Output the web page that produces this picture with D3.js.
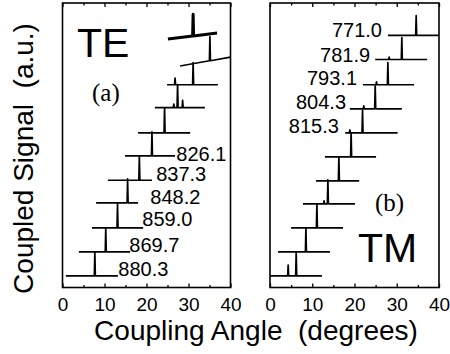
<!DOCTYPE html>
<html>
<head>
<meta charset="utf-8">
<script src="https://cdn.jsdelivr.net/npm/d3@7"></script>
<style>
  body { margin: 0; background: #fff; }
  svg { display: block; font-family: "Liberation Sans", Arial, Helvetica, sans-serif; }
  .serif { font-family: "Liberation Serif", "Times New Roman", serif; }
</style>
</head>
<body>
<svg id="chart" width="450" height="354"></svg>
<script>
// TE モード (下から上へ) : 基線レベル, 走査範囲, ピーク角度, ピーク高さ
const teLevel  = [0, 1.0, 2.0, 3.04, 3.98, 4.99, 5.95, 7.0, 7.95, 8.73, 9.85];
const teStart  = [0.8, 3.9, 7.0, 8.0, 10.8, 14.9, 18.0, 22.0, 24.9, 28.0, 25.1];
const tePeak   = [7.7, 10.3, 13.1, 15.5, 18.3, 21.3, 24.3, 27.4, 31.1, 35.1, 31.1];
const teEnd    = [13.2, 16.1, 19.2, 18.0, 21.3, 26.8, 30.4, 33.9, 37.0, 40, 36.8];
const teHeight = [1.0, 1.0, 1.0, 1.0, 1.0, 1.0, 1.04, 0.96, 0.92, 1.0, 0.9];
const teTilt   = [0, 0, 0, 0, 0, 0, 0, 0, 0, 0.37, 0.25];
// 小さな副ピーク [トレース番号, 角度, 高さ]
const teSide   = [[7, 26.5, 0.15], [7, 28.6, 0.3], [8, 26.8, 0.28]];
// 波長ラベル (トレース 0..5)
const teLabels     = ["880.3", "869.7", "859.0", "848.2", "837.3", "826.1"];
const teLabelAngle = [13.3, 15.9, 19.0, 20.9, 22.3, 27.1];
const teLabelLevel = [0, 1.01, 2.08, 2.99, 3.95, 4.8];

// TM モード
const tmLevel  = [0, 1.0, 2.0, 3.0, 3.95, 4.95, 5.95, 6.95, 7.95, 9.0, 10.0];
const tmStart  = [0, 1.9, 5.0, 7.8, 10.9, 13.0, 17.8, 18.9, 22.0, 24.9, 27.9];
const tmPeak   = [6.2, 8.5, 11.1, 13.7, 16.3, 19.2, 21.9, 24.9, 27.9, 31.2, 34.6];
const tmEnd    = [12.3, 14.2, 17.3, 20.1, 21.1, 25.1, 30.2, 31.2, 34.1, 37.2, 40];
const tmHeight = [1.0, 1.0, 1.0, 1.0, 1.0, 1.0, 0.95, 0.95, 0.92, 0.91, 0.83];
const tmTilt   = [0, 0, 0, 0, 0, 0, 0, 0, 0, 0, 0];
const tmSide   = [[0, 4.3, 0.45], [3, 12.8, 0.12], [6, 18.9, 0.12], [7, 22.2, 0.12], [8, 25.2, 0.12], [9, 28.2, 0.1]];
// 波長ラベル (トレース 6..10)
const tmLabels     = ["815.3", "804.3", "793.1", "781.9", "771.0"];
const tmLabelAngle = [16.3, 18.0, 20.6, 23.7, 26.5];
const tmLabelLevel = [5.93, 6.94, 7.94, 8.91, 9.93];

const majorTicks = [0, 10, 20, 30, 40];
const minorTicks = [5, 15, 25, 35];

const svg = d3.select("#chart");
const plotTop = 3, plotBottom = 287.5;

// 縦軸 (任意単位のオフセット)
const y = d3.scaleLinear().domain([-0.48, 11.35]).range([plotBottom, plotTop]);

// 1つのトレースの点列を作る
function tracePoints(i, start, peak, end, height, level, tilt, side) {
    const base = a => level[i] + tilt[i] * (a - start[i]) / (end[i] - start[i]);
    const peaks = [[peak[i], height[i]]]
        .concat(side.filter(s => s[0] === i).map(s => [s[1], s[2]]))
        .sort((a, b) => a[0] - b[0]);
    const pts = [[start[i], base(start[i])]];
    peaks.forEach(([a, h]) => {
        pts.push([a - 0.12, base(a)], [a, base(a) + h], [a + 0.12, base(a)]);
    });
    pts.push([end[i], base(end[i])]);
    return pts;
}

function drawPanel(id, x0, x1, d) {
    const x = d3.scaleLinear().domain([0, 40]).range([x0, x1]);
    const g = svg.append("g");

    g.append("clipPath").attr("id", "clip-" + id)
        .append("rect")
        .attr("x", x0).attr("y", plotTop)
        .attr("width", x1 - x0).attr("height", plotBottom - plotTop);

    // 下側の軸 (内向きの目盛)
    g.append("g")
        .attr("transform", `translate(0,${plotBottom})`)
        .call(d3.axisBottom(x).tickValues(majorTicks).tickSize(-4).tickPadding(10).tickFormat(d3.format("d")))
        .call(a => a.select(".domain").remove())
        .call(a => a.selectAll("line").attr("stroke-width", 1.3))
        .call(a => a.selectAll("text").attr("font-size", 19).attr("fill", "#000")
            .attr("font-family", "Liberation Sans, Arial, sans-serif"));
    g.append("g")
        .attr("transform", `translate(0,${plotBottom})`)
        .call(d3.axisBottom(x).tickValues(minorTicks).tickSize(-2.5).tickFormat(""))
        .call(a => a.select(".domain").remove())
        .call(a => a.selectAll("line").attr("stroke-width", 1.3));

    // 上側の軸 (ラベルなし)
    g.append("g")
        .attr("transform", `translate(0,${plotTop})`)
        .call(d3.axisTop(x).tickValues(majorTicks).tickSize(-4).tickFormat(""))
        .call(a => a.select(".domain").remove())
        .call(a => a.selectAll("line").attr("stroke-width", 1.3));
    g.append("g")
        .attr("transform", `translate(0,${plotTop})`)
        .call(d3.axisTop(x).tickValues(minorTicks).tickSize(-2.5).tickFormat(""))
        .call(a => a.select(".domain").remove())
        .call(a => a.selectAll("line").attr("stroke-width", 1.3));

    // スペクトルの描画
    const line = d3.line().x(p => x(p[0])).y(p => y(p[1]));
    const traces = d.level.map((_, i) =>
        tracePoints(i, d.start, d.peak, d.end, d.height, d.level, d.tilt, d.side));

    g.append("g").attr("clip-path", `url(#clip-${id})`)
        .selectAll("path")
        .data(traces)
        .join("path")
        .attr("d", line)
        .attr("fill", "none")
        .attr("stroke", "#000")
        .attr("stroke-linejoin", "round")
        .attr("stroke-width", (p, i) => (id === "te" && i === 10) ? 3 : 1.7);

    // 波長ラベル
    g.selectAll("text.wl")
        .data(d.labels)
        .join("text")
        .attr("class", "wl")
        .attr("x", (t, i) => x(d.labelAngle[i]))
        .attr("y", (t, i) => y(d.labelLevel[i]))
        .attr("text-anchor", d.anchor)
        .attr("font-size", 20)
        .text(t => t);

    // 枠
    g.append("rect")
        .attr("x", x0).attr("y", plotTop)
        .attr("width", x1 - x0).attr("height", plotBottom - plotTop)
        .attr("fill", "none").attr("stroke", "#000").attr("stroke-width", 1.6);

    return x;
}

const xTE = drawPanel("te", 62.5, 230.5, {
    level: teLevel, start: teStart, peak: tePeak, end: teEnd, height: teHeight,
    tilt: teTilt, side: teSide, labels: teLabels, labelAngle: teLabelAngle,
    labelLevel: teLabelLevel, anchor: "start"
});
const xTM = drawPanel("tm", 270, 439, {
    level: tmLevel, start: tmStart, peak: tmPeak, end: tmEnd, height: tmHeight,
    tilt: tmTilt, side: tmSide, labels: tmLabels, labelAngle: tmLabelAngle,
    labelLevel: tmLabelLevel, anchor: "end"
});

// パネル内の文字
svg.append("text").attr("x", 77).attr("y", 57).attr("font-size", 41).text("TE");
svg.append("text").attr("class", "serif").attr("x", 92).attr("y", 100.5).attr("font-size", 25).text("(a)");
svg.append("text").attr("x", 358).attr("y", 262).attr("font-size", 41).text("TM");
svg.append("text").attr("class", "serif").attr("x", 375).attr("y", 210.5).attr("font-size", 25).text("(b)");

// 軸タイトル
svg.append("text")
    .attr("x", 256).attr("y", 340)
    .attr("text-anchor", "middle")
    .attr("font-size", 28)
    .style("white-space", "pre")
    .text("Coupling Angle  (degrees)");

svg.append("text")
    .attr("transform", "translate(33,158.5) rotate(-90)")
    .attr("text-anchor", "middle")
    .attr("font-size", 28)
    .style("white-space", "pre")
    .text("Coupled Signal  (a.u.)");
</script>
</body>
</html>
